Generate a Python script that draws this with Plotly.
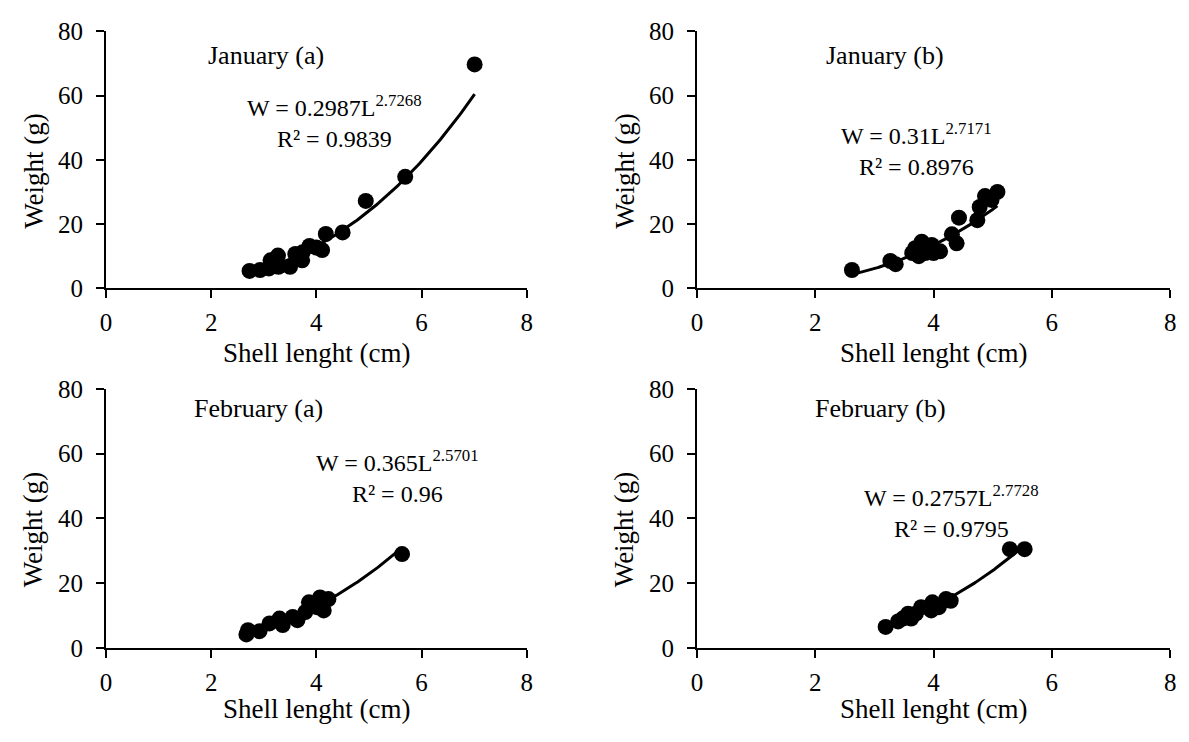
import numpy as np
import plotly.graph_objects as go

# ---------------- data ----------------
jan_a_len = [2.73, 2.93, 3.10, 3.13, 3.27, 3.28, 3.50, 3.60, 3.73, 3.74, 3.87, 4.00, 4.11, 4.18, 4.50, 4.94, 5.69, 7.01]
jan_a_wt  = [5.4, 5.7, 6.2, 8.7, 10.2, 6.7, 6.7, 10.7, 8.7, 11.2, 13.2, 12.7, 11.9, 16.9, 17.4, 27.2, 34.7, 69.7]

jan_b_len = [2.62, 3.27, 3.36, 3.64, 3.69, 3.75, 3.80, 3.86, 3.97, 4.00, 4.11, 4.31, 4.39, 4.43, 4.74, 4.78, 4.87, 4.98, 5.08]
jan_b_wt  = [5.7, 8.5, 7.5, 11.0, 12.5, 10.0, 14.5, 11.0, 13.5, 11.0, 11.5, 16.8, 14.0, 22.0, 21.2, 25.3, 28.7, 27.5, 30.0]

feb_a_len = [2.67, 2.70, 2.92, 3.11, 3.30, 3.36, 3.55, 3.64, 3.79, 3.86, 4.01, 4.07, 4.14, 4.23, 5.63]
feb_a_wt  = [4.2, 5.5, 5.2, 7.6, 9.1, 7.1, 9.6, 8.6, 11.1, 14.1, 12.6, 15.6, 11.6, 15.1, 29.0]

feb_b_len = [3.19, 3.40, 3.48, 3.57, 3.62, 3.70, 3.79, 3.96, 3.98, 4.09, 4.21, 4.29, 5.29, 5.54]
feb_b_wt  = [6.5, 8.2, 9.1, 10.6, 9.1, 10.6, 12.6, 11.6, 14.1, 12.6, 15.1, 14.6, 30.5, 30.5]

panel_titles = ["January (a)", "January (b)", "February (a)", "February (b)"]
coef_a = [0.2987, 0.31, 0.365, 0.2757]
coef_b = [2.7268, 2.7171, 2.5701, 2.7728]
coef_a_txt = ["0.2987", "0.31", "0.365", "0.2757"]
coef_b_txt = ["2.7268", "2.7171", "2.5701", "2.7728"]
r2_txt = ["0.9839", "0.8976", "0.96", "0.9795"]

x_ticks = [0, 2, 4, 6, 8]
y_ticks = [0, 20, 40, 60, 80]

series = [(jan_a_len, jan_a_wt), (jan_b_len, jan_b_wt), (feb_a_len, feb_a_wt), (feb_b_len, feb_b_wt)]

# ---------------- layout geometry ----------------
W, H = 1189, 742
FONT = "Liberation Serif"
FS = 25

xdom = [[101 / W, 526 / W], [698 / W, 1176 / W], [101 / W, 526 / W], [698 / W, 1176 / W]]
ydom = [[1 - 285.7 / H, 1 - 19 / H], [1 - 285.7 / H, 1 - 19 / H],
        [1 - 659 / H, 1 - 390 / H], [1 - 659 / H, 1 - 390 / H]]

title_pos = [(3.05, 72.5), (3.18, 72.5), (2.9, 74), (3.1, 74)]
eq_pos = [(4.35, 52.0), (3.72, 43.2), (5.55, 53.0), (4.3, 42)]

fig = go.Figure()
layout = dict(
    width=W, height=H,
    margin=dict(l=0, r=0, t=0, b=0),
    paper_bgcolor="white", plot_bgcolor="white",
    showlegend=False,
    font=dict(family=FONT, size=FS, color="black"),
)
annotations = []

for i, (xs, ys) in enumerate(series):
    k = "" if i == 0 else str(i + 1)
    xa, ya = "x" + k, "y" + k
    # trendline (power fit shown in the chart)
    xl = np.linspace(min(xs), max(xs), 120)
    yl = coef_a[i] * xl ** coef_b[i]
    fig.add_trace(go.Scatter(x=xl, y=yl, mode="lines", line=dict(color="black", width=3),
                             xaxis=xa, yaxis=ya, hoverinfo="skip"))
    fig.add_trace(go.Scatter(x=xs, y=ys, mode="markers",
                             marker=dict(color="black", size=16, line=dict(width=0)),
                             xaxis=xa, yaxis=ya))
    axcommon = dict(showgrid=False, zeroline=False, showline=True, linecolor="black", linewidth=2,
                    ticks="outside", ticklen=8, tickwidth=2, tickcolor="black",
                    tickfont=dict(family=FONT, size=FS, color="black"))
    layout["xaxis" + k] = dict(domain=xdom[i], range=[0, 8], tickvals=x_ticks, anchor=ya,
                               ticklabelstandoff=3, **axcommon)
    layout["yaxis" + k] = dict(domain=ydom[i], range=[0, 80], tickvals=y_ticks, anchor=xa,
                               ticklabelstandoff=8, **axcommon)

    # panel title
    annotations.append(dict(x=title_pos[i][0], y=title_pos[i][1], xref=xa, yref=ya,
                            text=panel_titles[i], showarrow=False,
                            font=dict(family=FONT, size=FS + 1, color="black")))
    # equation
    annotations.append(dict(x=eq_pos[i][0], y=eq_pos[i][1], xref=xa, yref=ya,
                            text=f"W = {coef_a_txt[i]}L<sup>{coef_b_txt[i]}</sup><br>R² = {r2_txt[i]}",
                            showarrow=False, align="center",
                            font=dict(family=FONT, size=FS - 1, color="black")))
    # axis titles
    xc = (xdom[i][0] + xdom[i][1]) / 2
    xt_y = (1 - 353 / H) if i < 2 else (1 - 722 / H)
    annotations.append(dict(x=xc, y=xt_y, xref="paper", yref="paper", text="Shell lenght (cm)",
                            showarrow=False, xanchor="center", yanchor="middle",
                            font=dict(family=FONT, size=FS + 2, color="black")))
    yt_x = (28 / W) if i % 2 == 0 else (625 / W)
    yt_y = (1 - 164 / H) if i < 2 else (1 - 536 / H)
    annotations.append(dict(x=yt_x, y=yt_y, xref="paper", yref="paper", text="Weight (g)",
                            showarrow=False, textangle=-90, xanchor="center", yanchor="middle",
                            font=dict(family=FONT, size=FS + 2, color="black")))

layout["annotations"] = annotations
fig.update_layout(**layout)
fig.write_html("out.html",
               config={"displayModeBar": False},
               post_script="document.body.style.margin='0';document.body.style.overflow='hidden';")
